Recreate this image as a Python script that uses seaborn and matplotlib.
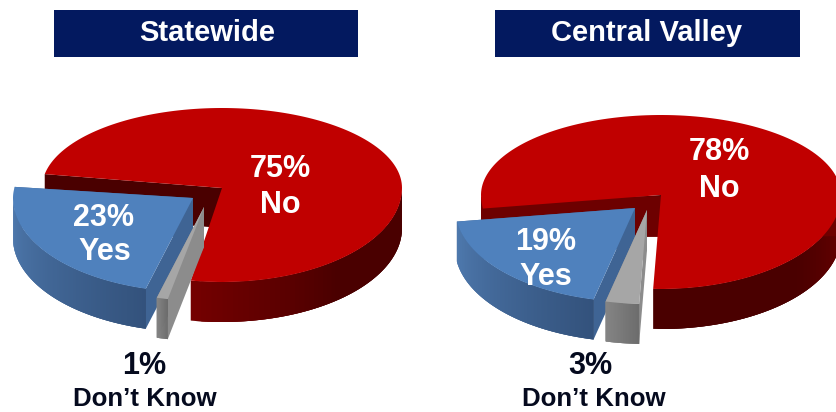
import numpy as np
import matplotlib
matplotlib.use("Agg")
import matplotlib.pyplot as plt
import seaborn as sns

# Survey results
regions = ["Statewide", "Central Valley"]
answers = ["No", "Yes", "Don’t Know"]
statewide_pct = [75, 23, 1]
central_valley_pct = [78, 19, 3]

sns.set_theme(style="white")
plt.rcParams["font.family"] = ["Liberation Sans", "DejaVu Sans"]

W, H = 836, 412
RX, RY_UP, RY_DOWN, DEPTH = 180, 80, 94, 40
fig = plt.figure(figsize=(W / 100, H / 100), dpi=100)
ax = fig.add_axes([0, 0, 1, 1])
ax.set_xlim(0, W)
ax.set_ylim(H, 0)
ax.axis("off")

NAVY = "#03195f"
TOP = ["#c00000", "#4f81bd", "#a6a6a6"]
CUT = ["#4a0000", "#3f6494", "#8c8c8c"]
WALL = [["#740000", "#4a0000", "#4a0000"],
        ["#4f7aaf", "#33527c"],
        ["#858585", "#6c6c6c"]]


def rim(cx, cy, deg):
    """Screen position of a rim point; the near half of the ellipse is deeper."""
    a = np.radians(deg)
    s = np.sin(a)
    return cx + RX * np.cos(a), cy - s * np.where(s > 0, RY_UP, RY_DOWN)


def draw_slice(cx, cy, t1, t2, top, cut, wall):
    th = np.linspace(t1, t2, 160)
    x, y = rim(cx, cy, th)

    # Flat cut faces that turn toward the viewer
    for t, faces_viewer in ((t1, np.cos(np.radians(t1)) < 0 and t1 > 100),
                            (t2, np.sin(np.radians(t2)) < 0.3 and t2 > 100)):
        if faces_viewer:
            ex, ey = rim(cx, cy, t)
            ax.fill([cx, ex, ex, cx], [cy, ey, ey + DEPTH, cy + DEPTH],
                    color=cut, lw=0, zorder=z[0])
    z[0] += 1

    # Curved outer wall, shaded in overlapping strips along the near half
    near = np.sin(np.radians(th)) <= 0.001
    if near.any():
        wx, wy = x[near], y[near]
        shades = sns.blend_palette(wall, len(wx))
        if wx[0] > wx[-1]:
            shades = shades[::-1]
        n = len(wx)
        for i in range(n - 1):
            j = min(i + 3, n - 1)
            ax.fill(np.r_[wx[i:j + 1], wx[i:j + 1][::-1]],
                    np.r_[wy[i:j + 1], wy[i:j + 1][::-1] + DEPTH],
                    color=shades[i], lw=0, zorder=z[0])
    z[0] += 1

    ax.fill(np.r_[cx, x], np.r_[cy, y], color=top, lw=0, zorder=z[0])
    z[0] += 1


def draw_pie(values, starts, apexes):
    for v, t, (cx, cy), top, cut, wall in zip(values, starts, apexes, TOP, CUT, WALL):
        draw_slice(cx, cy, t, t + v / 100 * 360, top, cut, wall)


z = [1]
draw_pie(statewide_pct, [-100, 172, 254.8], [(222, 188), (193, 198), (204, 207)])
draw_pie(central_valley_pct, [-92.5, 188.3, 256.7], [(661, 195), (635, 208), (647, 210)])

# Title bands
for name, x0, x1, tx in zip(regions, (54, 495), (358, 800), (207, 647)):
    ax.fill([x0, x1, x1, x0], [10, 10, 57, 57], color=NAVY, lw=0, zorder=z[0])
    ax.text(tx, 33, name, color="white", fontsize=21, fontweight="bold",
            ha="center", va="center", zorder=z[0] + 1)

# Slice labels
z_text = z[0] + 2
layouts = [
    (statewide_pct, [(280, 169, 280, 205), (104, 218, 105, 252), (144, 366, 145, 399)]),
    (central_valley_pct, [(719, 152, 719, 189), (546, 242, 546, 277), (590, 366, 594, 399)]),
]
for values, spots in layouts:
    for v, name, (px, py, nx, ny), colour in zip(values, answers, spots,
                                                 ("white", "white", "#050a1e")):
        ax.text(px, py, f"{v}%", color=colour, fontsize=22, fontweight="bold",
                ha="center", va="center", zorder=z_text)
        ax.text(nx, ny, name, color=colour, fontweight="bold",
                fontsize=18.6 if colour != "white" else 22,
                ha="center", va="center", zorder=z_text)

fig.savefig("out.png", dpi=100, facecolor="white")
